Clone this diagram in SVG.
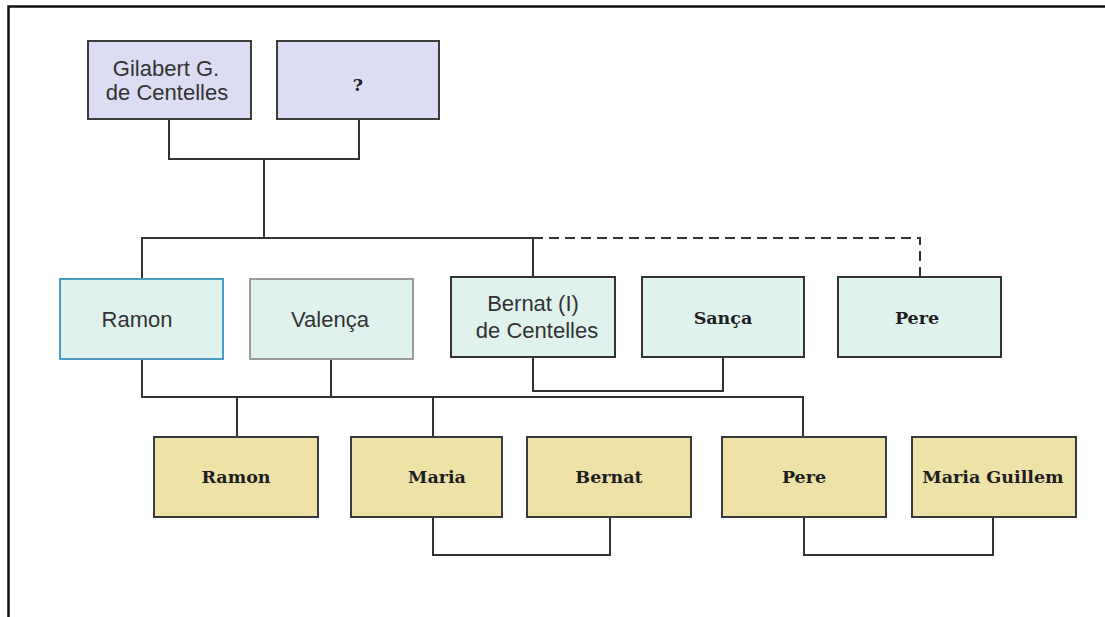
<svg xmlns="http://www.w3.org/2000/svg" width="1105" height="617" viewBox="0 0 1105 617">
<style>
.box{stroke-width:2}
.top{fill:#dcdcf4;stroke:#3c3c3c}
.mid{fill:#dff2ee;stroke:#333}
.bot{fill:#eee2a8;stroke:#3a3a3a}
.sans{font-family:"Liberation Sans",Arial,sans-serif;font-size:22px;fill:#333;text-anchor:middle}
.serif{font-family:"DejaVu Serif","Liberation Serif",serif;font-weight:bold;font-size:17.5px;fill:#1e1e1e;text-anchor:middle}
.ln{fill:none;stroke:#333;stroke-width:2}
.dash{fill:none;stroke:#333;stroke-width:2;stroke-dasharray:10,6}
</style>
<rect width="1105" height="617" fill="#fff"/>
<path d="M8.5 617V6.5H1105" fill="none" stroke="#111" stroke-width="2.5"/>
<g id="connectors">
<path class="ln" d="M169 119V159H359V119M264 159V238"/>
<path class="ln" d="M142 279V238H533V277"/>
<path class="dash" d="M533 238H920V277"/>
<path class="ln" d="M142 359V397H331V359M331 397H803V437M237 397V437M433 397V437"/>
<path class="ln" d="M533 357V391H723V357"/>
<path class="ln" d="M433 517V555H610V517"/>
<path class="ln" d="M804 517V555H993V517"/>
</g>
<g id="gilabert"><rect class="box top" x="88" y="41" width="163" height="78"/><text class="sans" x="166" y="76">Gilabert G.</text><text class="sans" x="167" y="100">de Centelles</text></g>
<g id="unknown"><rect class="box top" x="277" y="41" width="162" height="78"/><text class="serif" x="358" y="91" font-size="15">?</text></g>
<g id="ramon1"><rect class="box mid" x="60" y="279" width="163" height="80" style="stroke:#4a9cc2"/><text class="sans" x="137" y="327">Ramon</text></g>
<g id="valenca"><rect class="box mid" x="250" y="279" width="163" height="80" style="stroke:#9a9a9a"/><text class="sans" x="330" y="327">Valença</text></g>
<g id="bernat1"><rect class="box mid" x="451" y="277" width="164" height="80"/><text class="sans" x="533" y="311">Bernat (I)</text><text class="sans" x="537" y="338">de Centelles</text></g>
<g id="sanca"><rect class="box mid" x="642" y="277" width="162" height="80"/><text class="serif" x="723" y="324">Sança</text></g>
<g id="pere1"><rect class="box mid" x="838" y="277" width="163" height="80"/><text class="serif" x="917" y="324">Pere</text></g>
<g id="ramon2"><rect class="box bot" x="154" y="437" width="164" height="80"/><text class="serif" x="236" y="483">Ramon</text></g>
<g id="maria"><rect class="box bot" x="351" y="437" width="151" height="80"/><text class="serif" x="437" y="483">Maria</text></g>
<g id="bernat2"><rect class="box bot" x="527" y="437" width="164" height="80"/><text class="serif" x="609" y="483">Bernat</text></g>
<g id="pere2"><rect class="box bot" x="722" y="437" width="164" height="80"/><text class="serif" x="804" y="483">Pere</text></g>
<g id="mariaguillem"><rect class="box bot" x="912" y="437" width="164" height="80"/><text class="serif" x="993" y="483">Maria Guillem</text></g>
</svg>
